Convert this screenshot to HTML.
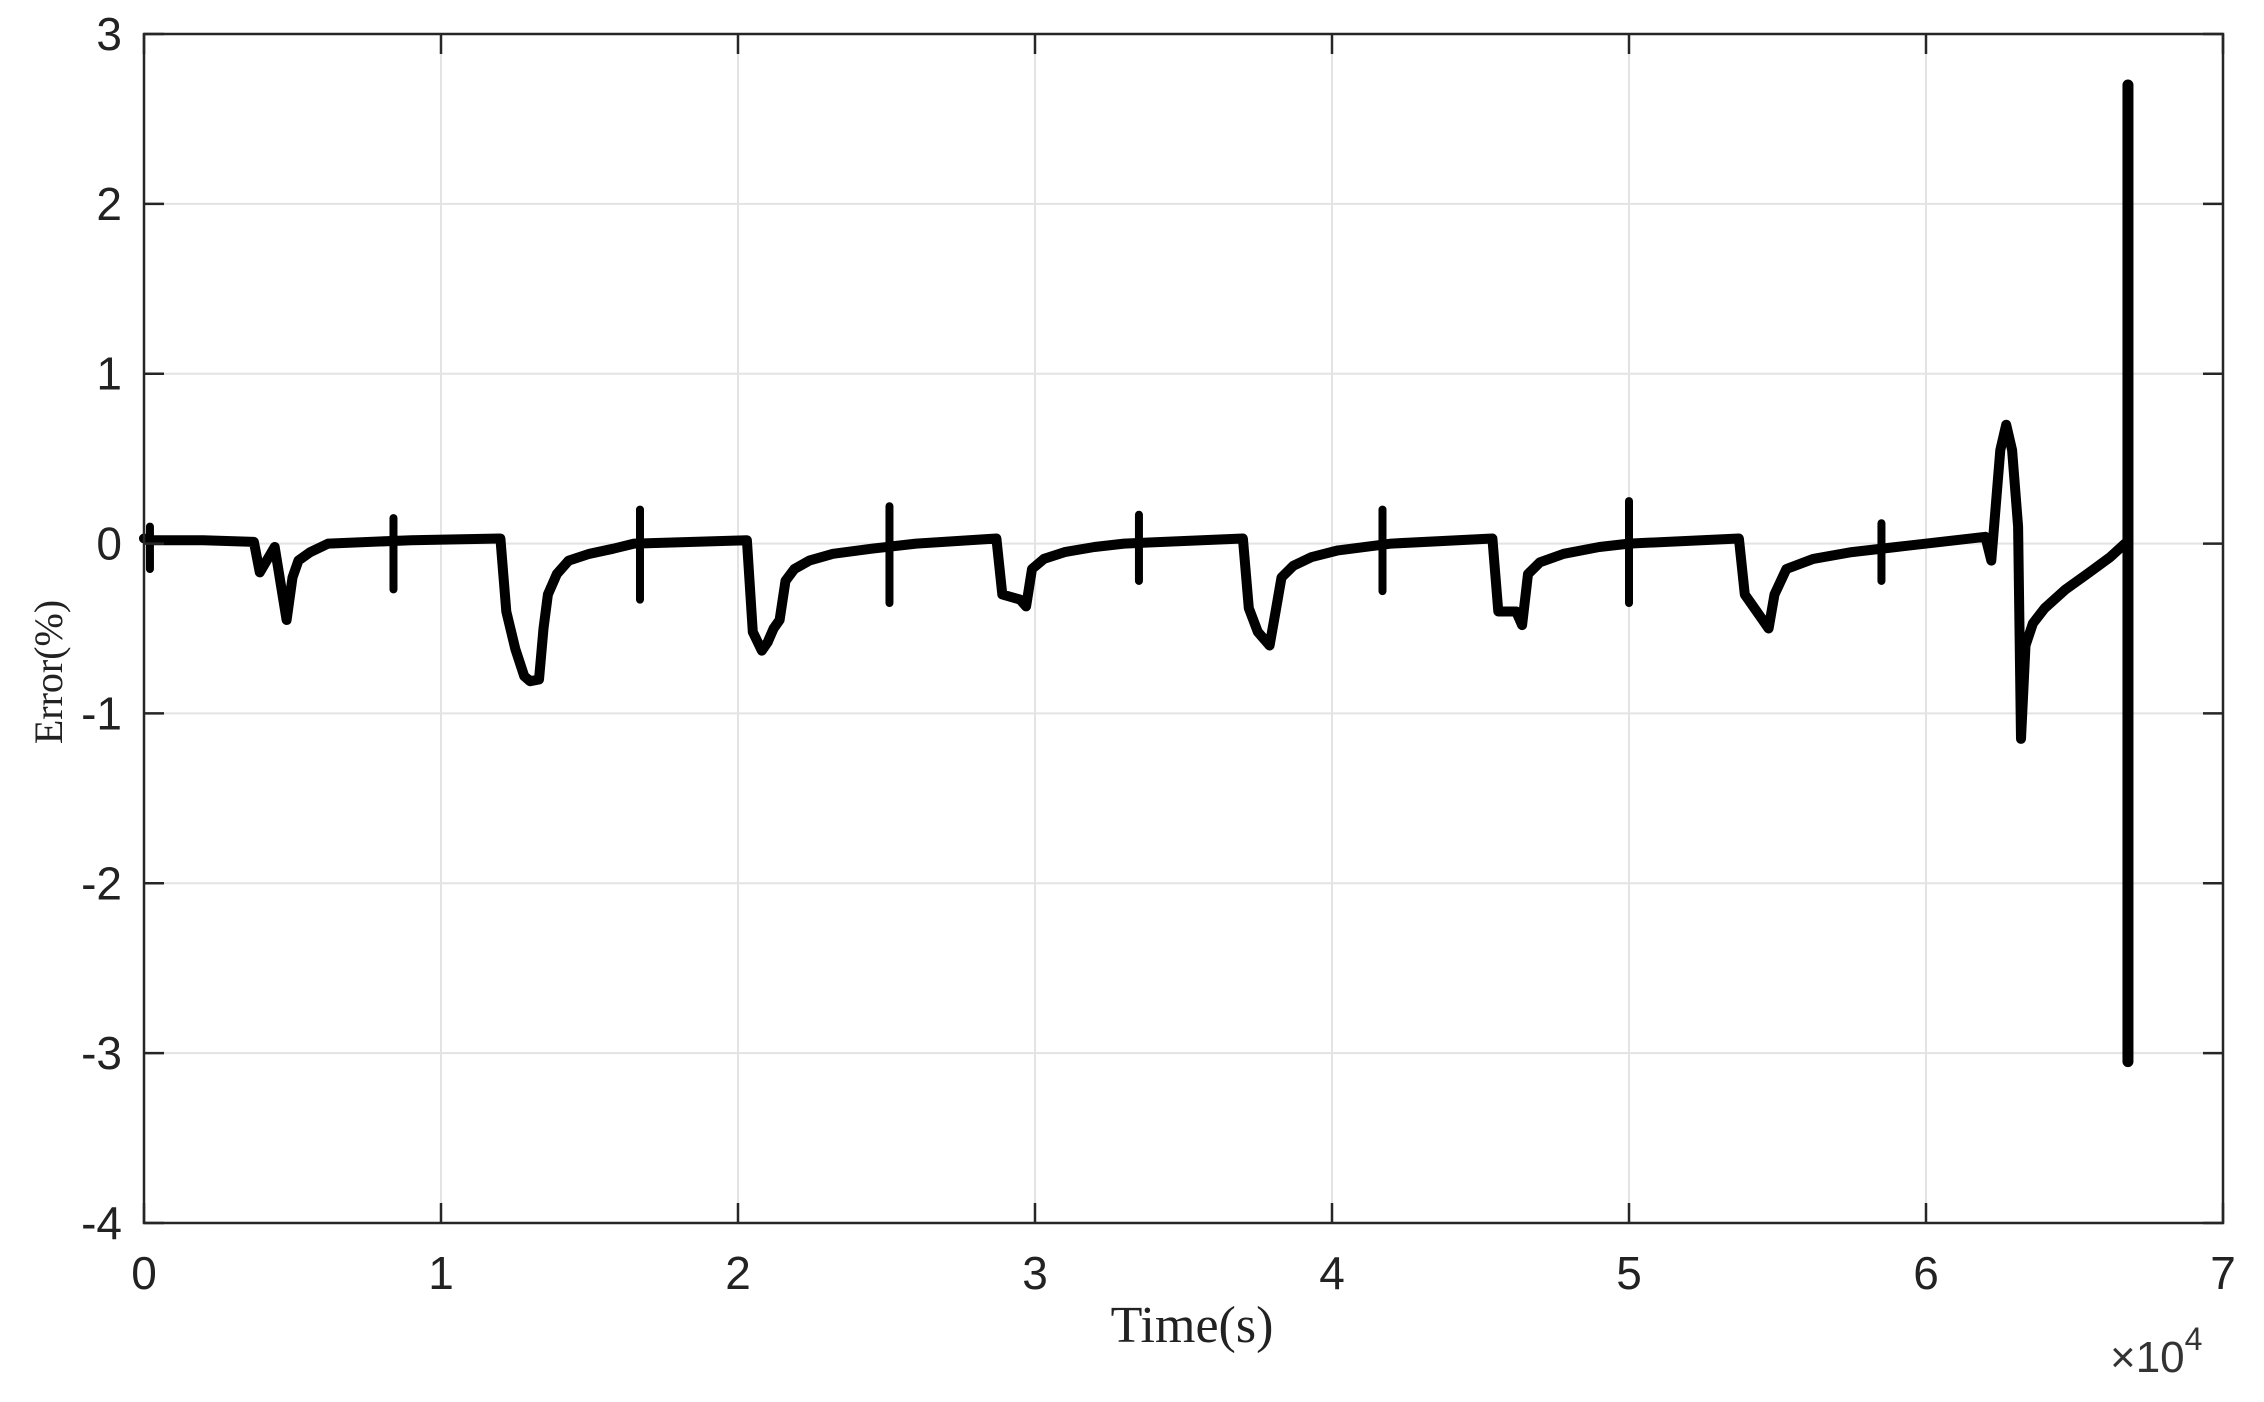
<!DOCTYPE html>
<html><head><meta charset="utf-8"><style>
html,body{margin:0;padding:0;background:#fff}
svg{display:block}
</style></head><body>
<svg id="chart" width="2264" height="1402" viewBox="0 0 2264 1402" xmlns="http://www.w3.org/2000/svg">
<g id="grid"></g>
<g id="series"></g>
<rect x="144" y="34" width="2079" height="1189" fill="none" stroke="#262626" stroke-width="2.5"/>
<g id="ticks"></g>
<text transform="translate(62,672) rotate(-90)" text-anchor="middle" font-family="Liberation Serif, serif" font-size="40" fill="#222">Error(%)</text>
<text x="1192" y="1342" text-anchor="middle" font-family="Liberation Serif, serif" font-size="52" fill="#222">Time(s)</text>
<text x="2110" y="1372" font-family="Liberation Sans, sans-serif" font-size="44" fill="#333">×10<tspan dy="-22" font-size="32">4</tspan></text>
</svg>
<script>
const xTicks=[0,1,2,3,4,5,6,7];
const yTicks=[3,2,1,0,-1,-2,-3,-4];
const time=[0,0.03,0.2,0.37,0.39,0.44,0.48,0.5,0.52,0.56,0.62,0.9,1.2,1.22,1.25,1.28,1.3,1.33,1.345,1.36,1.39,1.43,1.5,1.58,1.65,2.03,2.05,2.08,2.1,2.12,2.14,2.16,2.19,2.24,2.32,2.45,2.6,2.87,2.89,2.95,2.97,2.99,3.03,3.1,3.2,3.3,3.7,3.72,3.75,3.79,3.81,3.83,3.87,3.93,4.02,4.2,4.54,4.56,4.62,4.64,4.66,4.7,4.78,4.9,5.0,5.37,5.39,5.45,5.47,5.49,5.53,5.62,5.75,5.9,6.2,6.22,6.25,6.27,6.29,6.31,6.32,6.335,6.36,6.4,6.47,6.55,6.62,6.67];
const error=[0.03,0.02,0.02,0.01,-0.17,-0.02,-0.45,-0.2,-0.1,-0.05,0,0.02,0.03,-0.4,-0.62,-0.78,-0.81,-0.8,-0.5,-0.3,-0.18,-0.1,-0.06,-0.03,0,0.02,-0.52,-0.63,-0.58,-0.5,-0.45,-0.22,-0.15,-0.1,-0.06,-0.03,0,0.03,-0.3,-0.33,-0.37,-0.15,-0.09,-0.05,-0.02,0,0.03,-0.38,-0.52,-0.6,-0.4,-0.2,-0.13,-0.08,-0.04,0,0.03,-0.4,-0.4,-0.48,-0.18,-0.11,-0.06,-0.02,0,0.03,-0.3,-0.45,-0.5,-0.3,-0.15,-0.09,-0.05,-0.02,0.04,-0.1,0.55,0.7,0.55,0.1,-1.15,-0.6,-0.47,-0.38,-0.27,-0.17,-0.08,0];
const spikeTime=[0.02,0.84,1.67,2.51,3.35,4.17,5.0,5.85,6.68];
const spikeHigh=[0.1,0.15,0.2,0.22,0.17,0.2,0.25,0.12,2.7];
const spikeLow=[-0.15,-0.27,-0.33,-0.35,-0.22,-0.28,-0.35,-0.22,-3.05];
const X0=144,X1=2223,Y0=1223,Y1=34;
const xs=v=>X0+(v-0)/(7-0)*(X1-X0);
const ys=v=>Y0-(v+4)/(3+4)*(Y0-Y1);
const NS='http://www.w3.org/2000/svg';
const grid=document.getElementById('grid'),ticks=document.getElementById('ticks'),series=document.getElementById('series');
function mk(tag,attrs,parent){const e=document.createElementNS(NS,tag);for(const k in attrs)e.setAttribute(k,attrs[k]);parent.appendChild(e);return e;}
xTicks.forEach(t=>{
  const x=xs(t);
  const g=mk('line',{x1:x,x2:x,y1:Y1,y2:Y0,stroke:'#e3e3e3','stroke-width':2},grid);
  
  
  const a=mk('line',{x1:x,x2:x,y1:Y0,y2:Y0-20,stroke:'#262626','stroke-width':2.5},ticks);
  
  
  const b=mk('line',{x1:x,x2:x,y1:Y1,y2:Y1+20,stroke:'#262626','stroke-width':2.5},ticks);
  
  
  const l=mk('text',{x:x,y:Y0+66,'text-anchor':'middle','font-family':'Liberation Sans, sans-serif','font-size':46,fill:'#222'},ticks);
  l.textContent=t;
  
  
});
yTicks.forEach(t=>{
  const y=ys(t);
  const g=mk('line',{x1:X0,x2:X1,y1:y,y2:y,stroke:'#e3e3e3','stroke-width':2},grid);
  
  
  const a=mk('line',{x1:X0,x2:X0+20,y1:y,y2:y,stroke:'#262626','stroke-width':2.5},ticks);
  
  
  const b=mk('line',{x1:X1,x2:X1-20,y1:y,y2:y,stroke:'#262626','stroke-width':2.5},ticks);
  
  
  const l=mk('text',{x:X0-22,y:y+16,'text-anchor':'end','font-family':'Liberation Sans, sans-serif','font-size':46,fill:'#222'},ticks);
  l.textContent=t;
  
  
});
let d='';
time.forEach((t,i)=>{d+=(i?'L':'M')+xs(t).toFixed(1)+','+ys(error[i]).toFixed(1);});
const p=mk('path',{d:d,fill:'none',stroke:'#000','stroke-width':10,'stroke-linejoin':'round','stroke-linecap':'round'},series);


spikeTime.forEach((t,i)=>{
  const s=mk('line',{x1:xs(t),x2:xs(t),y1:ys(spikeHigh[i]),y2:ys(spikeLow[i]),stroke:'#000','stroke-width':i===spikeTime.length-1?11:8,'stroke-linecap':'round'},series);
  
  
});
</script>
</body></html>
